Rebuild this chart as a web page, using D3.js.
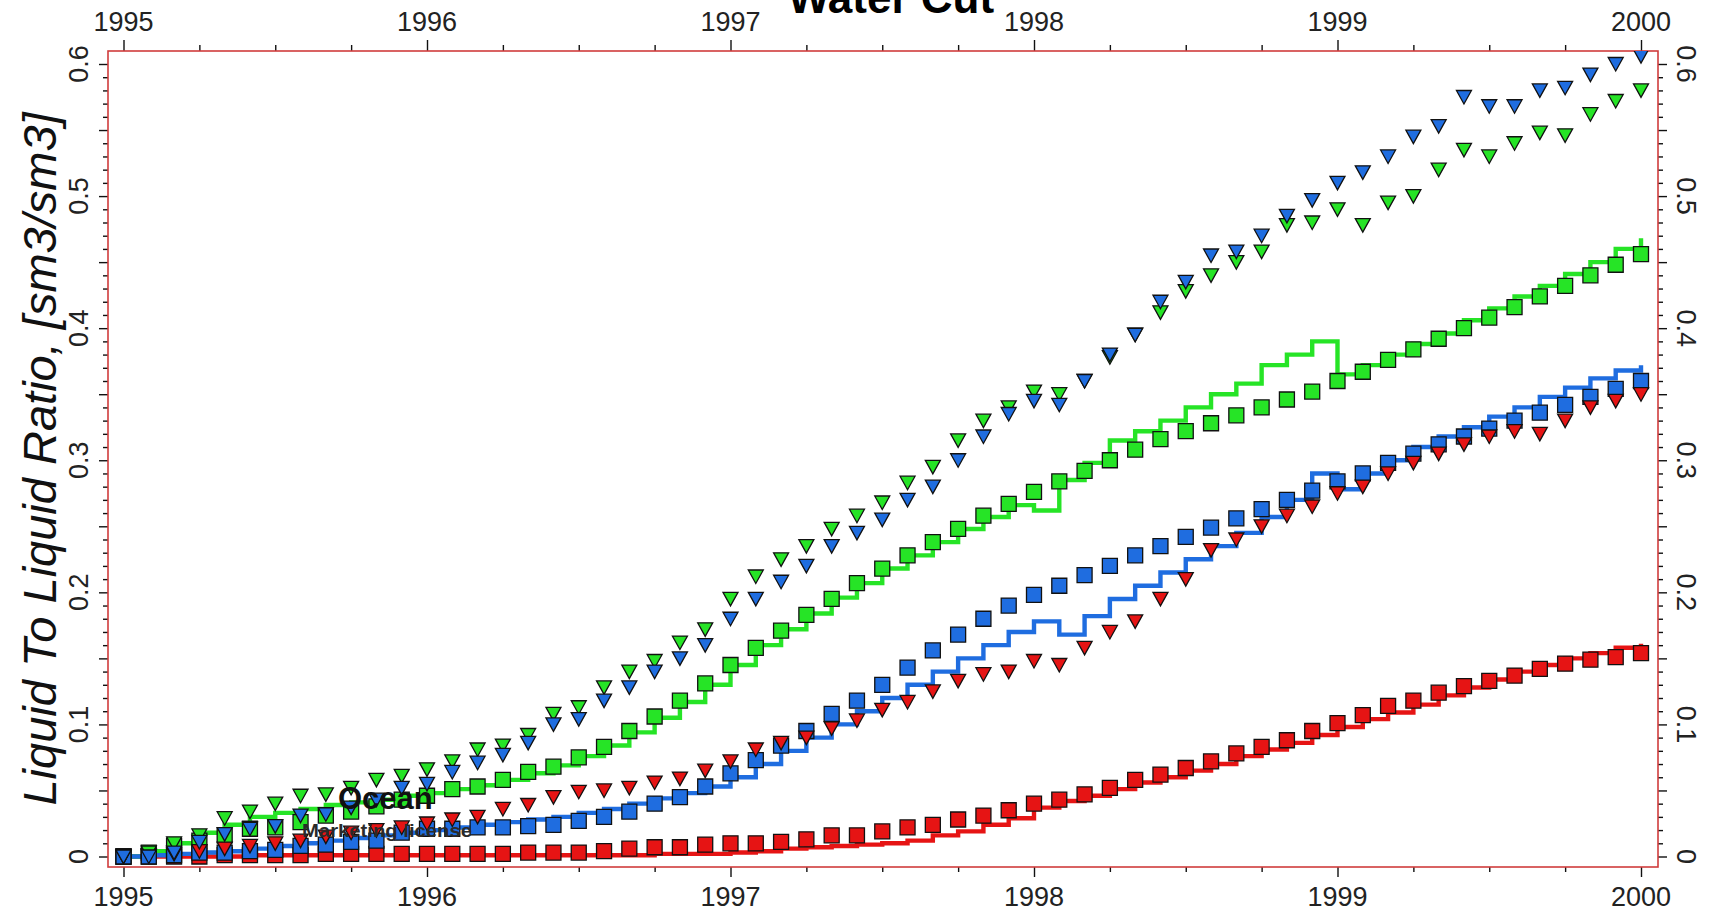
<!DOCTYPE html>
<html>
<head>
<meta charset="utf-8">
<script src="https://cdn.jsdelivr.net/npm/d3@7"></script>
<style>
  html, body { margin: 0; padding: 0; background: #fff; overflow: hidden; }
  text { font-family: "Liberation Sans", Arial, sans-serif; }
</style>
</head>
<body>
<svg id="chart" width="1715" height="913"></svg>
<script>
// ---- data -------------------------------------------------------------
const startYear = 1995;
const monthCount = 61;                       // monthly samples, Jan 1995 .. Jan 2000
const yearTicks  = [1995, 1996, 1997, 1998, 1999, 2000];
const yearLabels = ["1995", "1996", "1997", "1998", "1999", "2000"];
const ratioTicks  = [0, 0.1, 0.2, 0.3, 0.4, 0.5, 0.6];
const ratioLabels = ["0", "0.1", "0.2", "0.3", "0.4", "0.5", "0.6"];

// simulated water cut (step lines)
const greenSim = [0.000,0.004,0.010,0.018,0.024,0.030,0.033,0.036,0.039,0.041,0.043,0.046,0.048,0.051,0.054,0.058,0.063,0.069,0.076,0.084,0.094,0.105,0.117,0.130,0.145,0.160,0.172,0.184,0.196,0.207,0.218,0.228,0.238,0.248,0.257,0.266,0.262,0.285,0.298,0.315,0.322,0.330,0.340,0.350,0.358,0.372,0.380,0.390,0.365,0.372,0.380,0.388,0.396,0.406,0.415,0.424,0.432,0.441,0.450,0.460,0.468];
const blueSim  = [0.000,0.001,0.002,0.003,0.004,0.006,0.008,0.010,0.012,0.014,0.016,0.018,0.020,0.022,0.024,0.026,0.028,0.030,0.033,0.036,0.040,0.044,0.048,0.053,0.060,0.070,0.080,0.090,0.100,0.110,0.120,0.130,0.140,0.150,0.160,0.170,0.178,0.168,0.182,0.195,0.205,0.215,0.225,0.235,0.245,0.257,0.270,0.290,0.278,0.290,0.300,0.310,0.318,0.325,0.333,0.340,0.348,0.355,0.362,0.368,0.372];
const redSim   = [0.000,0.000,0.000,0.000,0.000,0.001,0.001,0.001,0.001,0.001,0.001,0.001,0.001,0.001,0.001,0.001,0.001,0.001,0.001,0.001,0.001,0.002,0.002,0.002,0.003,0.004,0.006,0.007,0.008,0.009,0.010,0.012,0.016,0.019,0.024,0.029,0.037,0.042,0.046,0.051,0.056,0.060,0.065,0.070,0.076,0.081,0.086,0.092,0.098,0.104,0.109,0.115,0.122,0.128,0.134,0.140,0.145,0.150,0.154,0.158,0.161];

// observed water cut (squares)
const greenObs = [0.000,0.003,0.008,0.012,0.016,0.021,0.022,0.026,0.031,0.034,0.038,0.043,0.046,0.051,0.053,0.058,0.064,0.068,0.075,0.083,0.095,0.106,0.118,0.131,0.145,0.158,0.171,0.183,0.195,0.207,0.218,0.228,0.238,0.248,0.258,0.267,0.276,0.284,0.292,0.300,0.308,0.316,0.322,0.328,0.334,0.340,0.346,0.352,0.360,0.367,0.376,0.384,0.392,0.400,0.408,0.416,0.424,0.432,0.440,0.448,0.456];
const blueObs  = [0.000,0.000,0.001,0.003,0.003,0.004,0.005,0.008,0.009,0.011,0.012,0.018,0.021,0.021,0.022,0.022,0.023,0.024,0.027,0.030,0.034,0.040,0.045,0.053,0.063,0.073,0.084,0.095,0.108,0.118,0.130,0.143,0.156,0.168,0.180,0.190,0.198,0.205,0.213,0.220,0.228,0.235,0.242,0.249,0.256,0.263,0.270,0.277,0.284,0.290,0.298,0.305,0.312,0.318,0.324,0.330,0.336,0.342,0.348,0.354,0.360];
const redObs   = [0.000,0.000,0.000,0.000,0.001,0.001,0.001,0.001,0.002,0.002,0.002,0.002,0.002,0.002,0.002,0.002,0.003,0.003,0.003,0.004,0.006,0.007,0.007,0.009,0.010,0.010,0.011,0.013,0.016,0.016,0.019,0.022,0.024,0.028,0.031,0.035,0.040,0.043,0.047,0.052,0.058,0.062,0.067,0.072,0.078,0.083,0.088,0.095,0.101,0.107,0.114,0.118,0.124,0.129,0.133,0.137,0.142,0.146,0.149,0.151,0.154];

// second observation set (down triangles)
const greenTri = [0.000,0.003,0.010,0.016,0.029,0.034,0.040,0.046,0.047,0.052,0.058,0.061,0.066,0.072,0.081,0.084,0.092,0.108,0.113,0.128,0.140,0.148,0.162,0.172,0.195,0.212,0.225,0.235,0.248,0.258,0.268,0.283,0.295,0.315,0.330,0.340,0.352,0.350,0.360,0.378,0.395,0.412,0.428,0.440,0.450,0.458,0.478,0.480,0.490,0.478,0.495,0.500,0.520,0.535,0.530,0.540,0.548,0.546,0.562,0.572,0.580];
const blueTri  = [0.000,0.000,0.003,0.011,0.017,0.021,0.023,0.031,0.032,0.037,0.043,0.052,0.055,0.064,0.071,0.077,0.086,0.100,0.104,0.118,0.128,0.140,0.150,0.160,0.180,0.195,0.208,0.220,0.235,0.245,0.255,0.270,0.280,0.300,0.318,0.335,0.345,0.342,0.360,0.380,0.395,0.420,0.435,0.455,0.458,0.470,0.485,0.497,0.510,0.518,0.530,0.545,0.553,0.575,0.568,0.568,0.580,0.582,0.592,0.600,0.606];
const redTri   = [0.000,0.001,0.002,0.004,0.006,0.008,0.010,0.012,0.015,0.018,0.020,0.022,0.025,0.028,0.030,0.036,0.039,0.045,0.049,0.050,0.052,0.056,0.059,0.065,0.072,0.081,0.086,0.090,0.097,0.103,0.111,0.117,0.125,0.133,0.138,0.140,0.148,0.145,0.158,0.170,0.178,0.195,0.210,0.232,0.240,0.250,0.258,0.265,0.275,0.280,0.290,0.298,0.305,0.312,0.318,0.322,0.320,0.330,0.340,0.345,0.350];

const chartTitle = "Water Cut";
const yTitle = "Liquid To Liquid Ratio, [sm3/sm3]";
const fieldName = "Ocean";
const fieldNote = "Marketing license";

// ---- layout -----------------------------------------------------------
const frame = { left: 108, right: 1658, top: 51, bottom: 867 };
const colors = { green: "#26e426", blue: "#1f6de0", red: "#e61414" };

const months = d3.range(monthCount).map(i => startYear + i / 12);

const x = d3.scaleLinear().domain([1995, 2000]).range([123.5, 1641]);
const y = d3.scaleLinear().domain([0, 0.6]).range([856.5, 64]);

const svg = d3.select("#chart");

svg.append("defs").append("clipPath").attr("id", "plotClip")
  .append("rect")
  .attr("x", frame.left).attr("y", frame.top)
  .attr("width", frame.right - frame.left).attr("height", frame.bottom - frame.top);

// ---- axes -------------------------------------------------------------
const quarterTicks = d3.range(0, 21).map(i => 1995 + i / 4).filter(v => !Number.isInteger(v));
const hundredths = d3.range(0, 61).map(i => i / 100);
const minorRatio = hundredths.filter((v, i) => i % 5 !== 0);
const midRatio   = hundredths.filter((v, i) => i % 5 === 0);

function tickAxis(axis, values, size, transform) {
  const g = svg.append("g").attr("transform", transform)
    .call(axis.tickValues(values).tickSize(size).tickSizeOuter(0).tickFormat(""));
  g.select(".domain").remove();
  g.selectAll(".tick line").attr("stroke", "#111").attr("stroke-width", 1.4);
  return g;
}

// bottom
tickAxis(d3.axisBottom(x), quarterTicks, 5, `translate(0,${frame.bottom})`);
tickAxis(d3.axisBottom(x), yearTicks, 10, `translate(0,${frame.bottom})`);
// top
tickAxis(d3.axisTop(x), quarterTicks, 6, `translate(0,${frame.top})`);
tickAxis(d3.axisTop(x), yearTicks, 11, `translate(0,${frame.top})`);
// left
tickAxis(d3.axisLeft(y), minorRatio, 5, `translate(${frame.left},0)`);
tickAxis(d3.axisLeft(y), midRatio, 9, `translate(${frame.left},0)`);
// right
tickAxis(d3.axisRight(y), minorRatio, 5, `translate(${frame.right},0)`);
tickAxis(d3.axisRight(y), midRatio, 9, `translate(${frame.right},0)`);

const labelStyle = sel => sel.attr("font-size", 27).attr("fill", "#222");

svg.append("g").selectAll("text").data(yearTicks).join("text")
  .attr("x", d => x(d)).attr("y", 906).attr("text-anchor", "middle")
  .text((d, i) => yearLabels[i]).call(labelStyle);

svg.append("g").selectAll("text").data(yearTicks).join("text")
  .attr("x", d => x(d)).attr("y", 31).attr("text-anchor", "middle")
  .text((d, i) => yearLabels[i]).call(labelStyle);

svg.append("g").selectAll("text").data(ratioTicks).join("text")
  .attr("transform", d => `translate(88,${y(d)}) rotate(-90)`)
  .attr("text-anchor", "middle")
  .text((d, i) => ratioLabels[i]).call(labelStyle);

svg.append("g").selectAll("text").data(ratioTicks).join("text")
  .attr("transform", d => `translate(1677,${y(d)}) rotate(90)`)
  .attr("text-anchor", "middle")
  .text((d, i) => ratioLabels[i]).call(labelStyle);

// frame
svg.append("rect")
  .attr("x", frame.left).attr("y", frame.top)
  .attr("width", frame.right - frame.left).attr("height", frame.bottom - frame.top)
  .attr("fill", "none").attr("stroke", "#d03c3c").attr("stroke-width", 1.6);

// titles
svg.append("text")
  .attr("x", 891).attr("y", 13).attr("text-anchor", "middle")
  .attr("font-size", 44).attr("font-weight", "bold").attr("fill", "#000")
  .text(chartTitle);

svg.append("text")
  .attr("transform", `translate(56,${(frame.top + frame.bottom) / 2}) rotate(-90)`)
  .attr("text-anchor", "middle")
  .attr("font-size", 47).attr("font-style", "italic").attr("fill", "#111")
  .text(yTitle);

// ---- series -----------------------------------------------------------
const plot = svg.append("g").attr("clip-path", "url(#plotClip)");

const stepLine = d3.line()
  .x((d, i) => x(months[i]))
  .y(d => y(d))
  .curve(d3.curveStepAfter);

const squarePath = "M-7.5,-7.5H7.5V7.5H-7.5Z";
const trianglePath = "M-7.5,-6.5L7.5,-6.5L0,7Z";

const wells = [
  { color: colors.red,   sim: redSim,   obs: redObs,   tri: redTri },
  { color: colors.green, sim: greenSim, obs: greenObs, tri: greenTri },
  { color: colors.blue,  sim: blueSim,  obs: blueObs,  tri: blueTri }
];

wells.forEach(w => {
  plot.append("path")
    .datum(w.sim)
    .attr("d", stepLine)
    .attr("fill", "none")
    .attr("stroke", w.color)
    .attr("stroke-width", 4.4);
});

wells.forEach(w => {
  plot.append("g").selectAll("path").data(w.obs).join("path")
    .attr("transform", (d, i) => `translate(${x(months[i])},${y(d)})`)
    .attr("d", squarePath)
    .attr("fill", w.color).attr("stroke", "#111").attr("stroke-width", 1.3);
});

wells.forEach(w => {
  plot.append("g").selectAll("path").data(w.tri).join("path")
    .attr("transform", (d, i) => `translate(${x(months[i])},${y(d)})`)
    .attr("d", trianglePath)
    .attr("fill", w.color).attr("stroke", "#111").attr("stroke-width", 1.3);
});

// field annotation
svg.append("text")
  .attr("x", 338).attr("y", 809)
  .attr("font-size", 31).attr("font-weight", "bold").attr("fill", "#111")
  .text(fieldName);

svg.append("text")
  .attr("x", 302).attr("y", 837)
  .attr("font-size", 19).attr("font-weight", "bold").attr("fill", "#2a2a2a")
  .attr("textLength", 170).attr("lengthAdjust", "spacingAndGlyphs")
  .text(fieldNote);
</script>
</body>
</html>
